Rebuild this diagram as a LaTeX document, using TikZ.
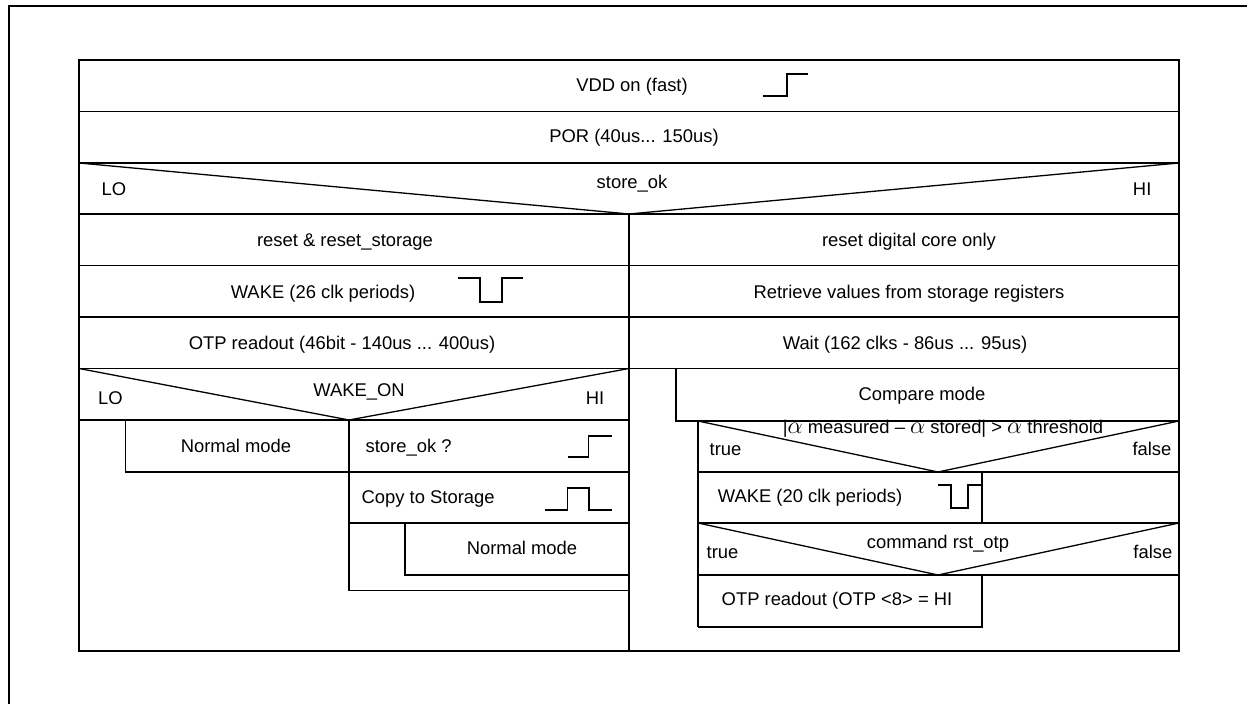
\documentclass[tikz,border=0pt]{standalone}
\usepackage{fontspec}
\setmainfont{Liberation Sans}
\usetikzlibrary{positioning}
\newcommand{\alf}{{\fontsize{12}{12}\selectfont$\alpha$}}

\begin{document}
\begin{tikzpicture}[x=0.5pt, y=-0.5pt, line width=0.65pt,
  every node/.style={font=\fontsize{9.2}{11}\selectfont, inner sep=0pt, text height=1.5ex, text depth=.25ex},
  lbl/.style={anchor=west}, rbl/.style={anchor=east}]
\useasboundingbox (0,0) rectangle (1247,704);
% outer frame
\draw[line width=1.1pt] (9,704) -- (9,6) -- (1247,6);
% main box, common rows
\draw (79,60) rectangle (1179,651);
\draw (79,111.5) -- (1179,111.5);
\draw (79,163) -- (1179,163);
\draw (79,163) -- (629,214) -- (1179,163);
\draw (79,214) -- (1179,214);
\draw (629,214) -- (629,651);
\foreach \y in {265.5,317,368.5}
  \draw (79,\y) -- (1179,\y);
\node (vdd) at (632,85) {VDD on (fast)};
\draw (763,96) -- (787,96) -- (787,74) -- (808,74);
\node (por) at (634,136) {POR (40us... 150us)};
\node (storeok) at (632,182) {store\_ok};
\node[lbl] (lo1) at (101,189) {LO};
\node[rbl] (hi1) at (1152,189) {HI};

% LO branch
\node (rst) at (345,240) {reset \& reset\_storage};
\node (wake) at (323,292) {WAKE (26 clk periods)};
\draw (458,278) -- (480,278) -- (480,302) -- (502,302) -- (502,278) -- (523,278);
\node (otp) at (342,343) {OTP readout (46bit - 140us ... 400us)};
\draw (79,368.5) -- (349,420) -- (629,368.5);
\draw (79,420) -- (629,420);
\node (wakeon) at (359,390) {WAKE\_ON};
\node[lbl] (lo2) at (97.5,398) {LO};
\node[rbl] (hi2) at (605,398) {HI};
\draw (125.5,420) rectangle (349,472);
\node (norm1) at (236,446) {Normal mode};
\draw (349,420) -- (349,590.5) -- (629,590.5);
\draw (349,472) -- (629,472);
\draw (349,523) -- (629,523);
\node[lbl] (sokq) at (365,446) {store\_ok ?};
\draw (567.5,457) -- (588.5,457) -- (588.5,436) -- (611.5,436);
\node[lbl] (copy) at (361,497) {Copy to Storage};
\draw (545,510) -- (567.5,510) -- (567.5,488) -- (589,488) -- (589,510) -- (611.5,510);
\draw (405,523) rectangle (629,575);
\node (norm2) at (522,548) {Normal mode};

% HI branch
\node (rstcore) at (909,240) {reset digital core only};
\node (retr) at (909,292) {Retrieve values from storage registers};
\node (wait) at (905,343) {Wait (162 clks - 86us ... 95us)};
\draw (676,368.5) rectangle (1179,421);
\node (cmp) at (922,394) {Compare mode};
\draw (698,421) -- (698,627);
\draw (698,421) -- (938,472) -- (1179,421);
\draw (698,472) -- (1179,472);
\node (cond) at (943,427) {|\alf{} measured – \alf{} stored| > \alf{} threshold};
\node[lbl] (t1) at (709,449) {true};
\node[rbl] (f1) at (1172,449) {false};
\draw (982,472) -- (982,523);
\node (wake2) at (810,496) {WAKE (20 clk periods)};
\draw (938,485) -- (951,485) -- (951,508) -- (968,508) -- (968,485) -- (982,485);
\draw (698,523) -- (1179,523);
\draw (698,523) -- (938,575) -- (1179,523);
\draw (698,575) -- (1179,575);
\node (rstotp) at (938,542) {command rst\_otp};
\node[lbl] (t2) at (706,552) {true};
\node[rbl] (f2) at (1173,552) {false};
\draw (698,627) -- (982,627) -- (982,575);
\node (otp2) at (837,599) {OTP readout (OTP <8> = HI};
\end{tikzpicture}
\end{document}
